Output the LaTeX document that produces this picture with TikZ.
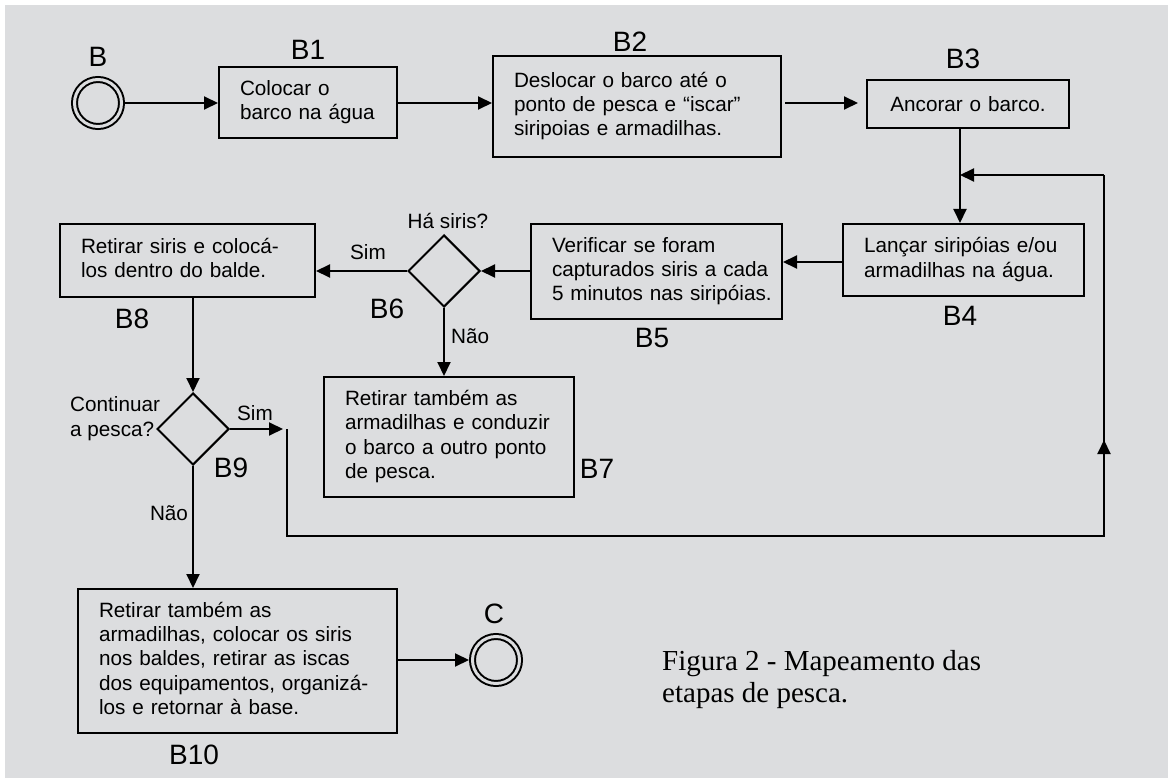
\documentclass[tikz,border=0pt]{standalone}
\usepackage{fontspec}
\setmainfont{Liberation Sans}
\newfontfamily\capfont{Liberation Serif}
\usetikzlibrary{arrows.meta,shapes.geometric}
\definecolor{bg}{RGB}{220,221,223}
\newcommand{\boxlines}[1]{\begin{tabular}{@{}l@{}}#1\end{tabular}}
\begin{document}
\begin{tikzpicture}[x=1pt,y=-1pt,
 every node/.style={inner sep=0pt},
 txt/.style={font=\fontsize{20.7}{24.3}\selectfont},
 lbl/.style={font=\fontsize{28}{30}\selectfont, anchor=base},
 box/.style={draw, line width=2pt, txt, align=left, inner xsep=21pt, inner ysep=0pt, anchor=north west},
 dia/.style={draw, line width=2pt, diamond, minimum width=72pt, minimum height=72pt, inner sep=0pt},
 ring/.style={circle, draw, line width=2pt, double=bg, double distance=3pt, minimum size=47pt, inner sep=0pt, outer sep=3.5pt},
 conn/.style={line width=2pt},
 arr/.style={conn, -{Triangle[length=14pt,width=13pt]}},
]
\useasboundingbox (0,0) rectangle (1168,778);
\fill[white] (0,0) rectangle (1168,778);
\fill[bg] (5,5) rectangle (1168,778);

% start / end
\node[ring] (start) at (98,103) {};
\node[lbl] (lB) at (98,67) {B};
\node[ring] (c) at (496,660) {};
\node[lbl] (lC) at (494,623) {C};

% boxes
\node[box, text width=136pt, minimum height=71pt] (b1) at (218,66) {\boxlines{Colocar o\\barco na água}};
\node[box, text width=246pt, minimum height=101pt] (b2) at (492,55) {\boxlines{Deslocar o barco até o\\ponto de pesca e “iscar”\\siripoias e armadilhas.}};
\node[box, text width=160pt, minimum height=48pt, align=center] (b3) at (866,79) {Ancorar o barco.};
\node[box, text width=199pt, minimum height=72pt] (b4) at (842,223) {\boxlines{Lançar siripóias e/ou\\armadilhas na água.}};
\node[box, text width=209pt, minimum height=95pt] (b5) at (530,223) {\boxlines{Verificar se foram\\capturados siris a cada\\5 minutos nas siripóias.}};
\node[box, text width=213pt, minimum height=73pt] (b8) at (59,223) {\boxlines{Retirar siris e colocá-\\los dentro do balde.}};
\node[box, text width=208pt, minimum height=120pt] (b7) at (323,376) {\boxlines{Retirar também as\\armadilhas e conduzir\\o barco a outro ponto\\de pesca.}};
\node[box, text width=277pt, minimum height=144pt] (b10) at (77,588) {\boxlines{Retirar também as\\armadilhas, colocar os siris\\nos baldes, retirar as iscas\\dos equipamentos, organizá-\\los e retornar à base.}};

% diamonds
\node[dia] (b6) at (444,271) {};
\node[dia] (b9) at (193,429) {};

% step labels
\node[lbl] (l1) at (308,60) {B1};
\node[lbl] (l2) at (630,52) {B2};
\node[lbl] (l3) at (963,69) {B3};
\node[lbl] (l4) at (960,326) {B4};
\node[lbl] (l5) at (652,347) {B5};
\node[lbl] (l6) at (387,318) {B6};
\node[lbl] (l7) at (597,478) {B7};
\node[lbl] (l8) at (132,328) {B8};
\node[lbl] (l9) at (231,477) {B9};
\node[lbl] (l10) at (194,764) {B10};

% small labels
\node[txt, anchor=base] (q6) at (448,229) {Há siris?};
\node[txt, anchor=base] (s6) at (368,260) {Sim};
\node[txt, anchor=base west] (n6) at (451,343) {Não};
\node[txt, anchor=base west, align=left] (q9) at (70,436) {Continuar\\a pesca?};
\node[txt, anchor=base] (s9) at (255,420) {Sim};
\node[txt, anchor=base] (n9) at (169,520) {Não};

% caption
\node[font=\capfont\fontsize{29}{32}\selectfont, anchor=base west, align=left] (cap) at (662,702) {Figura 2 - Mapeamento das\\etapas de pesca.};

% helper coordinates
\coordinate (j) at (960,175);
\coordinate (y45) at (0,262);
\coordinate (t9) at (283,429);
\coordinate (p1) at (287,429);
\coordinate (p2) at (287,536);
\coordinate (p3) at (1104,536);
\coordinate (pm) at (1104,440);
\coordinate (p4) at (1104,175);

% connectors
\draw[arr] (start.east) -- (start.east -| b1.west);
\draw[arr] (b1.east |- start) -- (b2.west |- start);
\draw[arr, shorten <=3pt, shorten >=8pt] (b2.east |- start) -- (b3.west |- start);
\draw[arr] (b3.south -| j) -- (b4.north -| j);
\draw[arr] (b4.west |- y45) -- (b5.east |- y45);
\draw[arr] (b5.west |- b6) -- (b6.east);
\draw[arr] (b6.west) -- (b8.east |- b6);
\draw[arr] (b6.south) -- (b7.north -| b6);
\draw[arr] (b8.south -| b9) -- (b9.north);
\draw[arr] (b9.east) -- (t9);
\draw[arr] (b9.south) -- (b10.north -| b9);
\draw[arr] (b10.east |- c) -- (c.west);
\draw[conn] (p1) -- (p2) -- (p3) -- (p4);
\draw[arr] (p3) -- (pm);
\draw[arr] (p4) -- (j);
\end{tikzpicture}
\end{document}
